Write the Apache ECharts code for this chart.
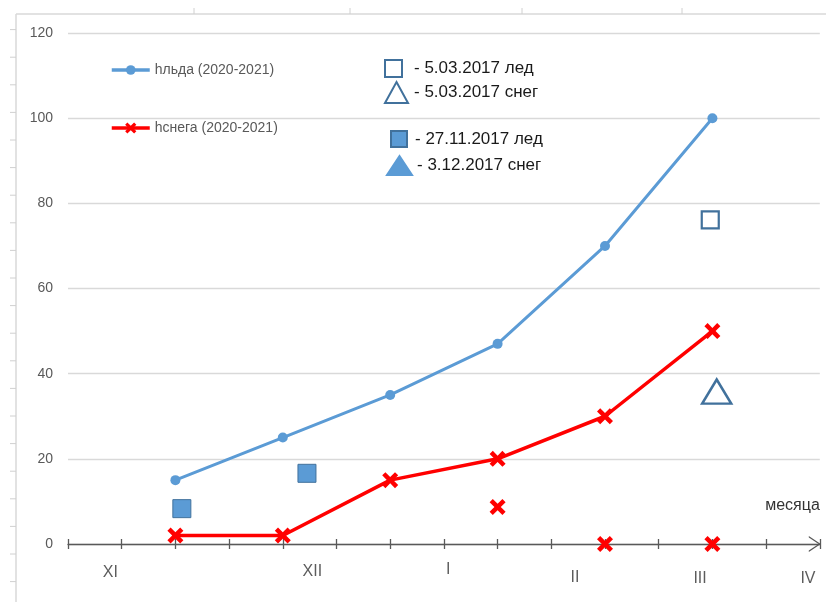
<!DOCTYPE html>
<html>
<head>
<meta charset="utf-8">
<script src="https://cdn.jsdelivr.net/npm/echarts@6/dist/echarts.min.js"></script>
<style>html,body{margin:0;padding:0;background:#fff}#c{width:826px;height:602px}</style>
</head>
<body>
<div id="c"></div>
<script>
// ---- data ----
const xPoints = [2, 4, 6, 8, 10, 12];
const iceDepth = [15, 25, 35, 47, 70, 100];          // hльда (2020-2021)
const snowDepth = [2, 2, 15, 20, 30, 50];            // hснега (2020-2021)
const snowExtra = [[8, 8.7], [10, 0], [12, 0]];      // red crosses without line
const ice2017Mar = [[11.96, 76.1]];                  // 5.03.2017 лед
const snow2017Mar = [[12.08, 35.8]];                 // 5.03.2017 снег
const ice2017Nov = [[2.12, 8.3], [4.45, 16.6]];      // 27.11.2017 лед
const snow2017Dec = [];                              // 3.12.2017 снег
const monthNames = ['XI', 'XII', 'I', 'II', 'III', 'IV'];
const monthPos = [0.79, 4.55, 7.08, 9.44, 11.77, 13.78];
const monthLevel = [-6.8, -6.5, -5.9, -7.9, -8.1, -8.1];
const yTicks = { min: 0, max: 120, interval: 20 };
const xTicks = { min: 0, max: 14, interval: 1 };

const nameIce = 'hльда (2020-2021)';
const nameSnow = 'hснега (2020-2021)';
const nIceMar = '- 5.03.2017 лед';
const nSnowMar = '- 5.03.2017 снег';
const nIceNov = '- 27.11.2017 лед';
const nSnowDec = '- 3.12.2017 снег';

const FONT = "'Liberation Sans', Arial, sans-serif";
const BLUE = '#5B9BD5', DARKBLUE = '#41719C', RED = '#FF0000';
const XPATH = 'path://M2,0 L5,3 L8,0 L10,2 L7,5 L10,8 L8,10 L5,7 L2,10 L0,8 L3,5 L0,2 Z';
const CHEVRON = 'path://M0,12 L8,0 L16,12 L14.5,12 L8,2.2 L1.5,12 Z';

// decorative frame (ruler-like border of the screenshot)
const deco = [
  { type: 'line', shape: { x1: 16, y1: 14, x2: 826, y2: 14 }, style: { stroke: '#d9d9d9', lineWidth: 1.5 } },
  { type: 'line', shape: { x1: 16, y1: 14, x2: 16, y2: 602 }, style: { stroke: '#d9d9d9', lineWidth: 1.5 } }
];
[194, 350, 522, 682].forEach(x => deco.push({ type: 'line', shape: { x1: x, y1: 8, x2: x, y2: 14 }, style: { stroke: '#d0d0d0', lineWidth: 1 } }));
for (let y = 29.6; y < 600; y += 27.6) deco.push({ type: 'line', shape: { x1: 10, y1: y, x2: 16, y2: y }, style: { stroke: '#d0d0d0', lineWidth: 1 } });

const chart = echarts.init(document.getElementById('c'), null, { renderer: 'canvas' });
const axisBase = { type: 'value', min: xTicks.min, max: xTicks.max, interval: xTicks.interval, position: 'bottom', splitLine: { show: false }, axisLabel: { show: false } };
const legText = { fontSize: 14, color: '#595959', fontFamily: FONT };
const legText2 = (pad) => ({ fontSize: 17, color: '#1a1a1a', fontFamily: FONT, padding: [0, 0, 0, pad] });

chart.setOption({
  animation: false,
  backgroundColor: '#fff',
  textStyle: { fontFamily: FONT },
  graphic: deco,
  grid: { left: 68, right: 6.2, top: 33, bottom: 58 },
  xAxis: [
    Object.assign({}, axisBase, {
      name: 'месяца', nameLocation: 'end', nameGap: 0,
      nameTextStyle: { fontFamily: FONT, fontSize: 16, color: '#333', align: 'right', verticalAlign: 'bottom', padding: [0, 0, 30, 0] },
      axisLine: { show: true, onZero: false, symbol: ['none', CHEVRON], symbolSize: [16, 12], symbolOffset: [0, -5], lineStyle: { color: '#595959', width: 1.3 } },
      axisTick: { show: true, inside: false, length: 5, lineStyle: { color: '#595959', width: 1.3 } }
    }),
    Object.assign({}, axisBase, {
      axisLine: { show: false, onZero: false },
      axisTick: { show: true, inside: true, length: 5, lineStyle: { color: '#595959', width: 1.3 } }
    })
  ],
  yAxis: {
    type: 'value', min: yTicks.min, max: yTicks.max, interval: yTicks.interval,
    axisLine: { show: false }, axisTick: { show: false },
    splitLine: { show: true, lineStyle: { color: '#D9D9D9', width: 1.3 } },
    axisLabel: { color: '#595959', fontSize: 14, margin: 15, fontFamily: FONT }
  },
  legend: [
    { data: [nameIce], left: 105, top: 58, itemWidth: 38, itemHeight: 12, textStyle: legText, selectedMode: false, lineStyle: { width: 3.5 } },
    { data: [nameSnow], left: 105, top: 116, itemWidth: 38, itemHeight: 14, textStyle: legText, selectedMode: false, lineStyle: { width: 3.5 } },
    { data: [nIceMar], left: 379, top: 54, itemWidth: 17, itemHeight: 17, textStyle: legText2(7), selectedMode: false },
    { data: [nSnowMar], left: 379, top: 76, itemWidth: 23, itemHeight: 21, textStyle: legText2(1), selectedMode: false },
    { data: [nIceNov], left: 385, top: 125, itemWidth: 16, itemHeight: 16, textStyle: legText2(3), selectedMode: false },
    { data: [nSnowDec], left: 381, top: 150, itemWidth: 25, itemHeight: 19, textStyle: legText2(0), selectedMode: false }
  ],
  series: [
    {
      name: nameIce, type: 'line', data: xPoints.map((x, i) => [x, iceDepth[i]]),
      symbol: 'circle', symbolSize: 10, lineStyle: { color: BLUE, width: 3 }, itemStyle: { color: BLUE }, z: 3
    },
    {
      name: nameSnow, type: 'line', data: xPoints.map((x, i) => [x, snowDepth[i]]), clip: false,
      symbol: XPATH, symbolSize: 16, lineStyle: { color: RED, width: 3.5 }, itemStyle: { color: RED }, z: 4
    },
    {
      name: 'extra', type: 'scatter', data: snowExtra, clip: false,
      symbol: XPATH, symbolSize: 16, itemStyle: { color: RED, opacity: 1 }, z: 4
    },
    {
      name: nIceMar, type: 'scatter', data: ice2017Mar, symbol: 'rect', symbolSize: 17,
      itemStyle: { color: 'rgba(255,255,255,0)', borderColor: DARKBLUE, borderWidth: 2.2, opacity: 1 }
    },
    {
      name: nSnowMar, type: 'scatter', data: snow2017Mar, symbol: 'triangle', symbolSize: [29, 24],
      itemStyle: { color: 'rgba(255,255,255,0)', borderColor: DARKBLUE, borderWidth: 2.5, opacity: 1 }
    },
    {
      name: nIceNov, type: 'scatter', data: ice2017Nov, symbol: 'rect', symbolSize: 18,
      itemStyle: { color: BLUE, borderColor: DARKBLUE, borderWidth: 1, opacity: 1 }
    },
    {
      name: nSnowDec, type: 'scatter', data: snow2017Dec, symbol: 'triangle', symbolSize: [25, 19],
      itemStyle: { color: BLUE, borderColor: BLUE, borderWidth: 1, opacity: 1 }
    },
    {
      name: 'months', type: 'scatter', clip: false, symbolSize: 0, silent: true,
      data: monthNames.map((m, i) => ({ value: [monthPos[i], monthLevel[i]], name: m })),
      label: { show: true, position: 'inside', formatter: p => p.name, color: '#333', fontSize: 16, fontFamily: FONT }
    }
  ]
});
</script>
</body>
</html>
